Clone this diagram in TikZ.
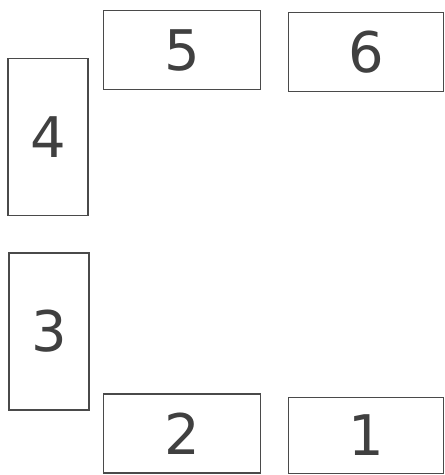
\documentclass[tikz,border=0pt]{standalone}
\usepackage{fontspec}
\setmainfont{DejaVu Sans}
\definecolor{boxline}{HTML}{4A4A4A}
\definecolor{digit}{HTML}{404040}
\begin{document}
\begin{tikzpicture}[x=1pt,y=-1pt,
  seat/.style={draw=boxline, line width=1.3pt, fill=white, inner sep=0pt,
    text=digit, font=\fontsize{56}{56}\selectfont},
  wide/.style={seat, minimum width=157pt, minimum height=79pt},
  tall/.style={seat, minimum width=80pt, minimum height=157pt}]
\useasboundingbox (0,0) rectangle (445,475);
\node[wide] (s5) at (182,50) {5};
\node[wide, minimum width=155pt] (s6) at (366,52) {6};
\node[tall] (s4) at (48,137) {4};
\node[tall] (s3) at (49,331.5) {3};
\node[wide] (s2) at (182,433.5) {2};
\node[wide, minimum width=155pt, minimum height=76pt] (s1) at (366,435.5) {1};
\end{tikzpicture}
\end{document}
